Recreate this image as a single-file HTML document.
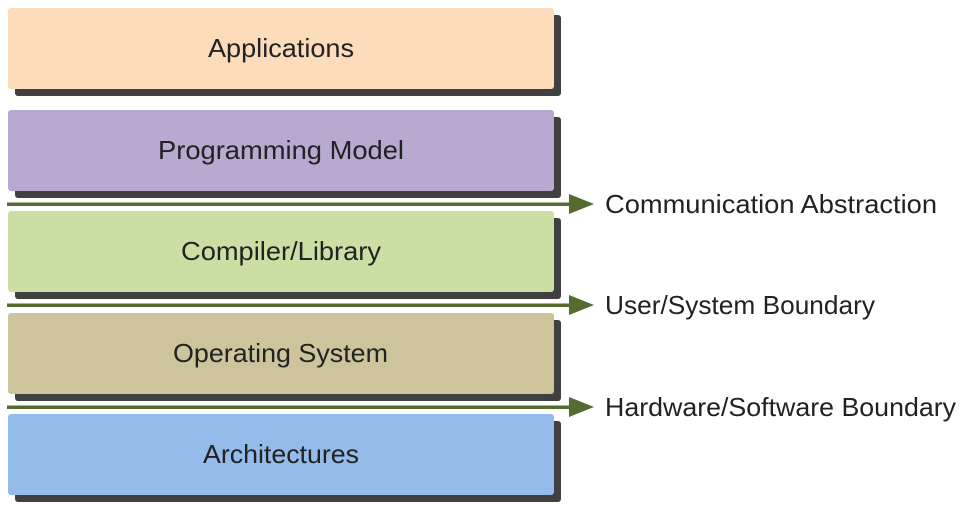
<!DOCTYPE html>
<html><head><meta charset="utf-8"><style>
html,body{margin:0;padding:0;background:#fff;width:962px;height:508px;overflow:hidden}
text{font-family:"Liberation Sans",sans-serif;font-size:26px;fill:#222}
</style></head><body>
<svg width="962" height="508" xmlns="http://www.w3.org/2000/svg">
<g fill="#404040">
<rect x="15" y="15" width="546" height="81" rx="3"/>
<rect x="15" y="117" width="546" height="81" rx="3"/>
<rect x="15" y="218" width="546" height="81" rx="3"/>
<rect x="15" y="320" width="546" height="81" rx="3"/>
<rect x="15" y="421" width="546" height="81" rx="3"/>
</g>
<rect x="8" y="8" width="546" height="81" rx="3" fill="#fddcbc"/>
<rect x="8" y="110" width="546" height="81" rx="3" fill="#b9a8cf"/>
<rect x="8" y="211" width="546" height="81" rx="3" fill="#cbdfa5"/>
<rect x="8" y="313" width="546" height="81" rx="3" fill="#cdc49d"/>
<rect x="8" y="414" width="546" height="81" rx="3" fill="#94bbea"/>
<g fill="#556b2f" stroke="none">
<rect x="7" y="202.5" width="566" height="3.5"/>
<polygon points="569,194 594,204 569,214"/>
<rect x="7" y="303.5" width="566" height="3.5"/>
<polygon points="569,295 594,305 569,315"/>
<rect x="7" y="405.5" width="566" height="3.5"/>
<polygon points="569,397 594,407 569,417"/>
</g>
<text x="208" y="57" textLength="146" lengthAdjust="spacingAndGlyphs">Applications</text>
<text x="158" y="159" textLength="246" lengthAdjust="spacingAndGlyphs">Programming Model</text>
<text x="181" y="260" textLength="200" lengthAdjust="spacingAndGlyphs">Compiler/Library</text>
<text x="173" y="362" textLength="215" lengthAdjust="spacingAndGlyphs">Operating System</text>
<text x="203" y="463" textLength="156" lengthAdjust="spacingAndGlyphs">Architectures</text>
<text x="605" y="213" textLength="332" lengthAdjust="spacingAndGlyphs">Communication Abstraction</text>
<text x="605" y="314" textLength="270" lengthAdjust="spacingAndGlyphs">User/System Boundary</text>
<text x="605" y="416" textLength="351" lengthAdjust="spacingAndGlyphs">Hardware/Software Boundary</text>
</svg>
</body></html>
